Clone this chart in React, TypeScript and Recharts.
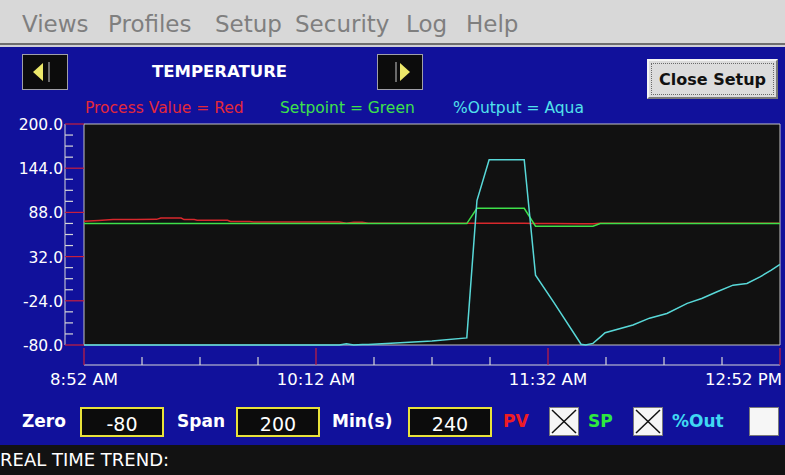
import React from "react";
import { LineChart, Line, XAxis, YAxis, CartesianGrid } from "recharts";

// minutes since 8:52 AM
const minutes = [
  0, 5, 10, 18, 25, 26.5, 33.5, 34.5, 38, 39, 49.5, 50.5, 57, 58.5, 70, 88, 90.5, 93, 96, 98,
  109, 120, 132, 135.5, 139.7, 151.8, 155.7, 162, 171.4, 173, 175.5, 178, 179.7, 189.3, 195,
  201, 208, 213, 218.3, 223.8, 228.6, 233.1, 237, 240,
];
const pvValues = [
  76.7, 77.8, 78.9, 78.9, 79.2, 80.9, 80.9, 78.9, 78.9, 78.0, 78.0, 76.4, 76.4, 75.9, 75.9, 75.9,
  74.2, 75.6, 75.6, 74.2, 74.2, 74.2, 74.2, 74.2, 74.2, 74.2, 74.0, 74.0, 73.6, 73.5, 73.6, 74.2,
  74.2, 74.2, 74.2, 74.2, 74.2, 74.2, 74.2, 74.2, 74.2, 74.2, 74.2, 74.2,
];
const spValues = [
  73.8, 73.8, 73.8, 73.8, 73.8, 73.8, 73.8, 73.8, 73.8, 73.8, 73.8, 73.8, 73.8, 73.8, 73.8, 73.8,
  73.8, 73.8, 73.8, 73.8, 73.8, 73.8, 73.8, 93.2, 93.2, 93.2, 70.5, 70.5, 70.5, 70.5, 70.5, 73.8,
  73.8, 73.8, 73.8, 73.8, 73.8, 73.8, 73.8, 73.8, 73.8, 73.8, 73.8, 73.8,
];
const outValues = [
  -80, -80, -80, -80, -80, -80, -80, -80, -80, -80, -80, -80, -80, -80, -80, -80, -78.5, -80,
  -79.5, -79.3, -77, -75, -71, 103, 154.7, 154.7, 8.5, -26, -79, -80, -78, -70, -64.4, -54.7,
  -46, -40, -27.3, -21, -12.6, -4.2, -2, 6.3, 14.8, 22,
];

const yTicks = [
  -80, -66, -52, -38, -24, -10, 4, 18, 32, 46, 60, 74, 88, 102, 116, 130, 144, 158, 172, 186, 200,
];
const xTicks = [0, 20, 40, 60, 80, 100, 120, 140, 160, 180, 200, 220, 240];
const timeLabels: Record<number, string> = {
  0: "8:52 AM",
  80: "10:12 AM",
  160: "11:32 AM",
  240: "12:52 PM",
};
const menuItems = [
  { label: "Views", left: 22 },
  { label: "Profiles", left: 108 },
  { label: "Setup", left: 215 },
  { label: "Security", left: 295 },
  { label: "Log", left: 406 },
  { label: "Help", left: 466 },
];

const data = minutes.map((m, i) => ({
  minute: m,
  pv: pvValues[i],
  sp: spValues[i],
  out: outValues[i],
}));

const CHART_W = 785;
const CHART_H = 390;
const PLOT_LEFT = 84;
const PLOT_TOP = 124;
const PLOT_RIGHT = 780;
const PLOT_BOTTOM = 345;
const X_AXIS_H = 40;
const SPINE_X = 65;
const BASE_Y = 365;
const Y_STEP = (PLOT_BOTTOM - PLOT_TOP) / (yTicks.length - 1);
const X_STEP = (PLOT_RIGHT - PLOT_LEFT) / (xTicks.length - 1);

const BLUE = "#11119b";
const TICK_RED = "#c8203c";
const TICK_WHITE = "#d8d8d8";
const FONT = "'DejaVu Sans', Verdana, sans-serif";

const YTick = (props: any) => {
  const { y, payload } = props;
  const v = payload.value;
  const major = (v + 80) % 56 === 0;
  return (
    <g>
      {v < 200 && (
        <line x1={SPINE_X} x2={SPINE_X} y1={y} y2={y - Y_STEP} stroke={TICK_WHITE} strokeWidth={1} />
      )}
      <line
        x1={SPINE_X}
        x2={major ? PLOT_LEFT : SPINE_X + 8}
        y1={y}
        y2={y}
        stroke={major ? TICK_RED : TICK_WHITE}
        strokeWidth={1.2}
      />
      {major && (
        <text x={SPINE_X - 2} y={y} dy={6} textAnchor="end" fill="#ffffff" fontSize={15.5} fontFamily={FONT}>
          {v.toFixed(1)}
        </text>
      )}
    </g>
  );
};

const XTick = (props: any) => {
  const { x, payload } = props;
  const v = payload.value;
  const major = v % 80 === 0;
  const last = v === 240;
  return (
    <g>
      {!last && (
        <line x1={x} x2={x + X_STEP} y1={BASE_Y} y2={BASE_Y} stroke={TICK_WHITE} strokeWidth={1} />
      )}
      <line
        x1={x}
        x2={x}
        y1={major ? PLOT_BOTTOM + 3 : BASE_Y - 8}
        y2={BASE_Y}
        stroke={major ? TICK_RED : TICK_WHITE}
        strokeWidth={1.2}
      />
      {major && (
        <text
          x={last ? x + 2 : x}
          y={BASE_Y + 20}
          textAnchor={last ? "end" : "middle"}
          fill="#ffffff"
          fontSize={16.5}
          fontFamily={FONT}
        >
          {timeLabels[v]}
        </text>
      )}
    </g>
  );
};

const NavButton = ({ left, dir }: { left: number; dir: "left" | "right" }) => (
  <svg
    width={46}
    height={36}
    style={{ position: "absolute", left, top: 54 }}
  >
    <rect x={0.5} y={0.5} width={45} height={35} fill="#0c0c0c" stroke="#a0a0a8" />
    {dir === "left" ? (
      <>
        <polygon points="11,18 21,9 21,27" fill="#ece86a" />
        <line x1={27} x2={27} y1={8} y2={28} stroke="#8a8a8a" strokeWidth={1.5} />
      </>
    ) : (
      <>
        <line x1={19} x2={19} y1={8} y2={28} stroke="#8a8a8a" strokeWidth={1.5} />
        <polygon points="23,9 33,18 23,27" fill="#ece86a" />
      </>
    )}
  </svg>
);

const ValueBox = ({ left, value }: { left: number; value: string }) => (
  <div
    style={{
      position: "absolute",
      left,
      top: 407,
      width: 84,
      height: 30,
      boxSizing: "border-box",
      background: "#0c0c0c",
      border: "2px solid #e8e23a",
      color: "#ffffff",
      fontSize: 19,
      display: "flex",
      alignItems: "center",
      justifyContent: "center",
      paddingTop: 4,
    }}
  >
    {value}
  </div>
);

const CheckBox = ({ left, checked }: { left: number; checked: boolean }) => (
  <svg width={30} height={29} style={{ position: "absolute", left, top: 407 }}>
    <rect x={0.5} y={0.5} width={29} height={28} fill="#f6f6f6" stroke="#7a7a7a" />
    {checked && (
      <>
        <line x1={3} y1={3} x2={27} y2={26} stroke="#111" strokeWidth={1.5} />
        <line x1={27} y1={3} x2={3} y2={26} stroke="#111" strokeWidth={1.5} />
      </>
    )}
  </svg>
);

const boldLabel = (text: string, left: number, color: string) => (
  <div
    style={{
      position: "absolute",
      left,
      top: 409,
      fontSize: 17,
      fontWeight: "bold",
      color,
      lineHeight: "24px",
    }}
  >
    {text}
  </div>
);

export default function App() {
  return (
    <div
      style={{
        position: "absolute",
        left: 0,
        top: 0,
        width: 785,
        height: 475,
        overflow: "hidden",
        background: BLUE,
        fontFamily: FONT,
      }}
    >
      {/* menu bar */}
      <div
        style={{
          position: "absolute",
          left: 0,
          top: 0,
          width: 785,
          height: 43,
          background: "#d8d8d8",
          borderBottom: "2px solid #6e6e6e",
        }}
      />
      <div style={{ position: "absolute", left: 0, top: 45, width: 785, height: 2, background: "#cfcfd6" }} />
      {menuItems.map((m) => (
        <div
          key={m.label}
          style={{
            position: "absolute",
            left: m.left,
            top: 9,
            fontSize: 23,
            color: "#7f7f7f",
            lineHeight: "30px",
          }}
        >
          {m.label}
        </div>
      ))}

      {/* header row */}
      <NavButton left={22} dir="left" />
      <NavButton left={377} dir="right" />
      <div
        style={{
          position: "absolute",
          left: 152,
          top: 60,
          fontSize: 16.5,
          fontWeight: "bold",
          color: "#ffffff",
          lineHeight: "24px",
        }}
      >
        TEMPERATURE
      </div>
      <div
        style={{
          position: "absolute",
          left: 647,
          top: 59,
          width: 131,
          height: 40,
          boxSizing: "border-box",
          background: "#dcdcdc",
          borderTop: "2px solid #f4f4f4",
          borderLeft: "2px solid #f4f4f4",
          borderRight: "2px solid #7a7a7a",
          borderBottom: "2px solid #7a7a7a",
          padding: 2,
        }}
      >
        <div
          style={{
            width: "100%",
            height: "100%",
            boxSizing: "border-box",
            border: "1px dotted #6a6a6a",
            display: "flex",
            alignItems: "center",
            justifyContent: "center",
            fontSize: 16,
            fontWeight: "bold",
            color: "#111111",
          }}
        >
          Close Setup
        </div>
      </div>

      {/* legend text */}
      <div style={{ position: "absolute", left: 85, top: 98, fontSize: 15.5, color: "#e3283a", lineHeight: "20px" }}>
        Process Value = Red
      </div>
      <div style={{ position: "absolute", left: 280, top: 98, fontSize: 15.5, color: "#3ee24a", lineHeight: "20px" }}>
        Setpoint = Green
      </div>
      <div style={{ position: "absolute", left: 453, top: 98, fontSize: 15.5, color: "#52e2ec", lineHeight: "20px" }}>
        %Output = Aqua
      </div>

      {/* chart */}
      <div style={{ position: "absolute", left: 0, top: 0 }}>
        <LineChart
          width={CHART_W}
          height={CHART_H}
          data={data}
          margin={{
            top: PLOT_TOP,
            right: CHART_W - PLOT_RIGHT,
            bottom: CHART_H - PLOT_BOTTOM - X_AXIS_H,
            left: 0,
          }}
        >
          <CartesianGrid
            fill="#111111"
            stroke="#c4c4c4"
            horizontalValues={[-80, 200]}
            verticalValues={[0, 240]}
          />
          <XAxis
            dataKey="minute"
            type="number"
            domain={[0, 240]}
            ticks={xTicks}
            interval={0}
            height={X_AXIS_H}
            axisLine={false}
            tickLine={false}
            tick={<XTick />}
          />
          <YAxis
            type="number"
            domain={[-80, 200]}
            ticks={yTicks}
            interval={0}
            width={PLOT_LEFT}
            axisLine={false}
            tickLine={false}
            tick={<YTick />}
          />
          <Line
            type="linear"
            dataKey="pv"
            stroke="#d8282c"
            strokeWidth={1.5}
            dot={false}
            isAnimationActive={false}
          />
          <Line
            type="linear"
            dataKey="sp"
            stroke="#3ee04a"
            strokeWidth={1.5}
            dot={false}
            isAnimationActive={false}
          />
          <Line
            type="linear"
            dataKey="out"
            stroke="#58d8d8"
            strokeWidth={1.5}
            dot={false}
            isAnimationActive={false}
          />
        </LineChart>
      </div>

      {/* controls row */}
      {boldLabel("Zero", 22, "#ffffff")}
      <ValueBox left={80} value="-80" />
      {boldLabel("Span", 177, "#ffffff")}
      <ValueBox left={236} value="200" />
      {boldLabel("Min(s)", 332, "#ffffff")}
      <ValueBox left={408} value="240" />
      {boldLabel("PV", 503, "#ee1c24")}
      <CheckBox left={549} checked={true} />
      {boldLabel("SP", 588, "#2ee83e")}
      <CheckBox left={633} checked={true} />
      {boldLabel("%Out", 672, "#40d8f2")}
      <CheckBox left={749} checked={false} />

      {/* status bar */}
      <div
        style={{
          position: "absolute",
          left: 0,
          top: 445,
          width: 785,
          height: 30,
          background: "#121212",
          color: "#ffffff",
          fontSize: 18,
          lineHeight: "30px",
        }}
      >
        REAL TIME TREND:
      </div>
    </div>
  );
}
